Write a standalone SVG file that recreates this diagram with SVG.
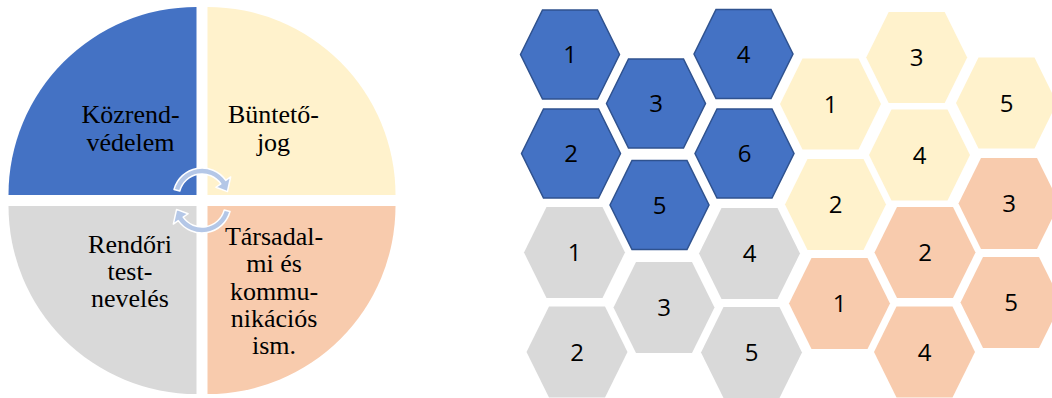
<svg xmlns="http://www.w3.org/2000/svg" xmlns:xlink="http://www.w3.org/1999/xlink" width="1052" height="398" viewBox="0 0 1052 398">
<style>
.lbl{font-family:"Liberation Serif","Times New Roman",serif;font-size:26px;fill:#000;text-anchor:middle}
.num{font-family:"Open Sans","Liberation Sans",sans-serif;font-size:24px;fill:#000;text-anchor:middle}
.blue{fill:#4472C4;stroke:#2F528F;stroke-width:1.5}
.gray{fill:#D9D9D9}
.cream{fill:#FFF2CC}
.orange{fill:#F8CBAD}
.arr{fill:#B4C7E7;stroke:#FFFFFF;stroke-width:1.5;stroke-linejoin:round}
</style>
<defs>
<polygon id="hex" points="-50.5,0 -28,-45.5 28,-45.5 50.5,0 28,45.5 -28,45.5"/>
<polygon id="hexb" points="-49.5,0 -27.5,-44.5 27.5,-44.5 49.5,0 27.5,44.5 -27.5,44.5"/>
</defs>
<rect width="1052" height="398" fill="#FFFFFF"/>

<g id="pie">
<g id="q-kozrend">
<path d="M196.5,195 L8.5,195 A188,188 0 0 1 196.5,7 Z" fill="#4472C4"/>
<text class="lbl"><tspan x="130.5" y="122.7">Közrend-</tspan><tspan x="130.5" y="150.7">védelem</tspan></text>
</g>
<g id="q-buntetojog">
<path d="M207.5,195 L207.5,7 A188,188 0 0 1 395.5,195 Z" fill="#FFF2CC"/>
<text class="lbl"><tspan x="273.5" y="122.7">Büntető-</tspan><tspan x="273.5" y="150.7">jog</tspan></text>
</g>
<g id="q-rendori">
<path d="M196.5,206 L196.5,394 A188,188 0 0 1 8.5,206 Z" fill="#D9D9D9"/>
<text class="lbl"><tspan x="130" y="252.5">Rendőri</tspan><tspan x="130" y="279.5">test-</tspan><tspan x="130" y="306.5">nevelés</tspan></text>
</g>
<g id="q-tarsadalmi">
<path d="M207.5,206 L395.5,206 A188,188 0 0 1 207.5,394 Z" fill="#F8CBAD"/>
<text class="lbl"><tspan x="274" y="245">Társadal-</tspan><tspan x="274" y="272">mi és</tspan><tspan x="274" y="299.5">kommu-</tspan><tspan x="274" y="327">nikációs</tspan><tspan x="274" y="354">ism.</tspan></text>
</g>
</g>

<g id="connectors">
<path class="arr" d="M173.99,189.49 A29,29 0 0 1 225.76,180.37 L230.67,176.92 L227.43,191.59 L215.93,187.25 L220.84,183.81 A23,23 0 0 0 179.78,191.05 Z"/>
<path class="arr" d="M230.01,211.51 A29,29 0 0 1 178.24,220.63 L173.33,224.08 L176.57,209.41 L188.07,213.75 L183.16,217.19 A23,23 0 0 0 224.22,209.95 Z"/>
</g>

<g id="hex-blue">
<g id="b1"><use xlink:href="#hexb" class="blue" x="570" y="54.5"/><text class="num" x="570" y="63">1</text></g>
<g id="b4"><use xlink:href="#hexb" class="blue" x="743.5" y="54"/><text class="num" x="743.5" y="62.5">4</text></g>
<g id="b3"><use xlink:href="#hexb" class="blue" x="656" y="103.5"/><text class="num" x="656" y="112">3</text></g>
<g id="b2"><use xlink:href="#hexb" class="blue" x="571" y="153.5"/><text class="num" x="571" y="162">2</text></g>
<g id="b6"><use xlink:href="#hexb" class="blue" x="744.5" y="153.5"/><text class="num" x="744.5" y="162">6</text></g>
<g id="b5"><use xlink:href="#hexb" class="blue" x="659.5" y="205"/><text class="num" x="659.5" y="213.5">5</text></g>
</g>

<g id="hex-gray">
<g id="g1"><use xlink:href="#hex" class="gray" x="574.5" y="252.5"/><text class="num" x="574.5" y="261">1</text></g>
<g id="g3"><use xlink:href="#hex" class="gray" x="664" y="307.5"/><text class="num" x="664" y="316">3</text></g>
<g id="g4"><use xlink:href="#hex" class="gray" x="749.5" y="253.5"/><text class="num" x="749.5" y="262">4</text></g>
<g id="g2"><use xlink:href="#hex" class="gray" x="577" y="352"/><text class="num" x="577" y="360.5">2</text></g>
<g id="g5"><use xlink:href="#hex" class="gray" x="751.5" y="352.5"/><text class="num" x="751.5" y="361">5</text></g>
</g>

<g id="hex-cream">
<g id="c3"><use xlink:href="#hex" class="cream" x="916.7" y="57.5"/><text class="num" x="916.7" y="66">3</text></g>
<g id="c1"><use xlink:href="#hex" class="cream" x="830.5" y="104"/><text class="num" x="830.5" y="112.5">1</text></g>
<g id="c5"><use xlink:href="#hex" class="cream" x="1006.5" y="103"/><text class="num" x="1006.5" y="111.5">5</text></g>
<g id="c4"><use xlink:href="#hex" class="cream" x="919.5" y="155"/><text class="num" x="919.5" y="163.5">4</text></g>
<g id="c2"><use xlink:href="#hex" class="cream" x="835.5" y="204.5"/><text class="num" x="835.5" y="213">2</text></g>
</g>

<g id="hex-orange">
<g id="o3"><use xlink:href="#hex" class="orange" x="1009" y="203.5"/><text class="num" x="1009" y="212">3</text></g>
<g id="o2"><use xlink:href="#hex" class="orange" x="925" y="252.5"/><text class="num" x="925" y="261">2</text></g>
<g id="o1"><use xlink:href="#hex" class="orange" x="839.5" y="303.5"/><text class="num" x="839.5" y="312">1</text></g>
<g id="o5"><use xlink:href="#hex" class="orange" x="1011" y="302.5"/><text class="num" x="1011" y="311">5</text></g>
<g id="o4"><use xlink:href="#hex" class="orange" x="924.5" y="352"/><text class="num" x="924.5" y="360.5">4</text></g>
</g>
</svg>
